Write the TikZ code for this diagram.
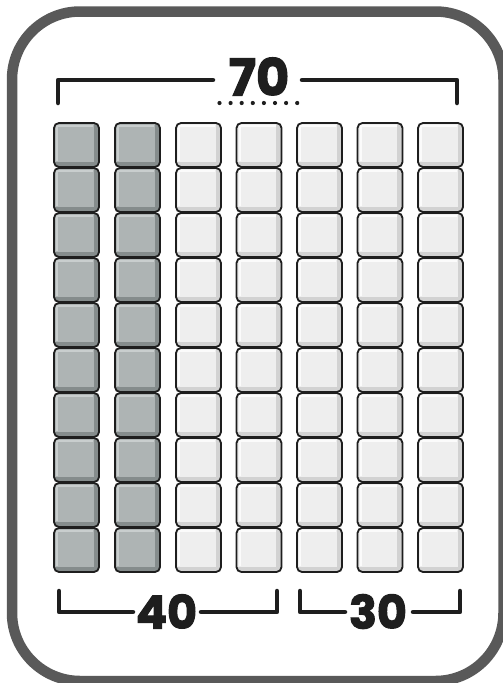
\documentclass[tikz,border=0pt]{standalone}
\usepackage{fontspec}
\newfontfamily\numfont{Poppins}[UprightFont=* Bold, FakeBold=2.2]
\definecolor{framegray}{HTML}{595959}
\definecolor{ink}{HTML}{1E1E1E}
\definecolor{darkmain}{HTML}{AEB4B4}
\definecolor{darkshade}{HTML}{858C8C}
\definecolor{darkhl}{HTML}{C9CECE}
\definecolor{lightmain}{HTML}{EEEEEE}
\definecolor{lightshade}{HTML}{D2D2D2}
\definecolor{lighthl}{HTML}{FBFBFB}
\tikzset{
  bracket/.style={line width=4.5pt, draw=ink, line cap=round, line join=round},
  numlabel/.style={inner sep=0pt, text=ink},
  cubeline/.style={line width=1.8pt, draw=ink, rounded corners=5pt},
}
\newcommand{\drawcube}[5]{% x y main shade hl
  \begin{scope}
    \clip[rounded corners=5pt] (#1,#2) rectangle ++(45,44);
    \fill[#3] (#1,#2) rectangle ++(45,44);
    \fill[#4] (#1+39.5,#2) rectangle ++(6,44);
    \fill[#4] (#1,#2+38.5) rectangle ++(45,6);
    \draw[#5, line width=1.6pt] (#1+3.2,#2+38) -- (#1+3.2,#2+3.2) -- (#1+39,#2+3.2);
  \end{scope}
  \draw[cubeline] (#1,#2) rectangle ++(45,44);
}
\begin{document}
\begin{tikzpicture}[x=1pt,y=-1pt]
\useasboundingbox (0,0) rectangle (503,683);
\fill[white] (0,0) rectangle (503,683);
\draw[line width=10.5pt, draw=framegray, rounded corners=68pt] (12,11.5) rectangle (503.5,681);

% cubes
\foreach \c [count=\ci from 0] in {54,115,176,236.5,297,357.5,418}{
  \foreach \r in {0,...,9}{
    \ifnum\ci<2
      \drawcube{\c}{123+45*\r}{darkmain}{darkshade}{darkhl}
    \else
      \drawcube{\c}{123+45*\r}{lightmain}{lightshade}{lighthl}
    \fi
  }
}

% top bracket
\node[numlabel, font=\numfont\fontsize{51}{51}\selectfont] (seventy) at (259,76.5) {70};
\coordinate (tl1) at (58,103); \coordinate (tl2) at (58,80); \coordinate (tl3) at (213,80);
\coordinate (tr1) at (302,80); \coordinate (tr2) at (457,80); \coordinate (tr3) at (457,103);
\draw[bracket] (tl1) -- (tl2) -- (tl3);
\draw[bracket] (tr1) -- (tr2) -- (tr3);
\foreach \i in {0,...,7}{
  \fill[ink] (219.5+11.1*\i,103) circle (2.1pt);
}

% bottom brackets
\node[numlabel, font=\numfont\fontsize{46}{46}\selectfont] (forty) at (166.5,611.5) {40};
\coordinate (a1) at (59,591); \coordinate (a2) at (59,612); \coordinate (a3) at (133,612);
\coordinate (b1) at (201,612); \coordinate (b2) at (277,612); \coordinate (b3) at (277,591);
\draw[bracket] (a1) -- (a2) -- (a3);
\draw[bracket] (b1) -- (b2) -- (b3);

\node[numlabel, font=\numfont\fontsize{46}{46}\selectfont] (thirty) at (378,611.5) {30};
\coordinate (c1) at (300,591); \coordinate (c2) at (300,612); \coordinate (c3) at (345,612);
\coordinate (d1) at (413,612); \coordinate (d2) at (460,612); \coordinate (d3) at (460,591);
\draw[bracket] (c1) -- (c2) -- (c3);
\draw[bracket] (d1) -- (d2) -- (d3);
\end{tikzpicture}
\end{document}
